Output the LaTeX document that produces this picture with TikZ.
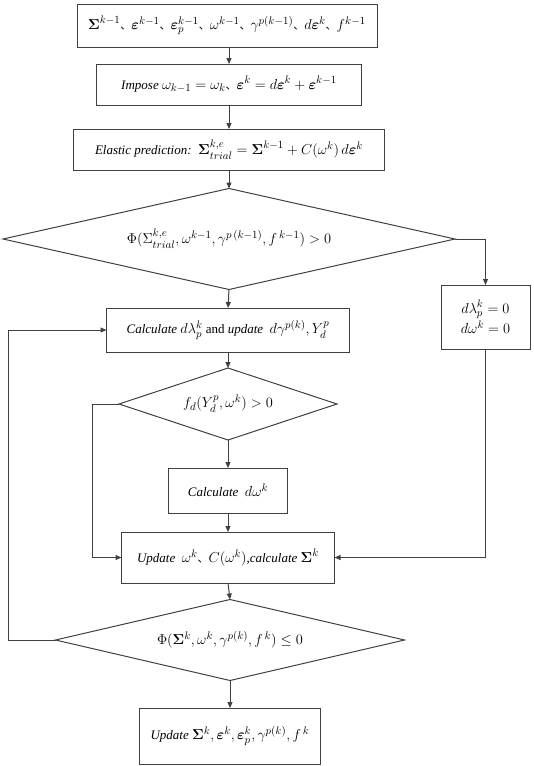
\documentclass[tikz,border=0pt]{standalone}
\usepackage{amsmath,bm}
\usepackage{fontspec}
\setmainfont{Liberation Serif}
\newfontfamily\cjk{Noto Sans CJK SC}
\usetikzlibrary{shapes.geometric,arrows.meta}
\definecolor{lc}{HTML}{404040}
\newcommand{\dun}{{\cjk\fontsize{11}{13}\selectfont 、}}
\newcommand{\mm}[1]{{\fontsize{15}{17}\selectfont$#1$}}
\begin{document}
\begin{tikzpicture}[x=1pt,y=-1pt,
  every node/.style={inner sep=0pt,outer sep=0pt},
  box/.style={draw=lc,line width=1pt,rectangle,align=center,font=\fontsize{13}{17}\selectfont},
  dia/.style={draw=lc,line width=1pt,diamond,align=center,font=\fontsize{13}{17}\selectfont},
  arr/.style={draw=lc,line width=1pt,-{Triangle[length=6pt,width=5pt]}},
  ln/.style={draw=lc,line width=1pt}]
\useasboundingbox (0,0) rectangle (533,766);
\node[box,minimum width=300pt,minimum height=43pt] (b1) at (227,25.5)
  {\mm{\bm{\Sigma}^{k-1}}\dun\mm{\bm{\varepsilon}^{k-1}}\dun\mm{\bm{\varepsilon}_p^{k-1}}\dun\mm{\omega^{k-1}}\dun\mm{\gamma^{p(k-1)}}\dun\mm{d\bm{\varepsilon}^k}\dun\mm{f^{k-1}}};
\node[box,minimum width=265pt,minimum height=41pt] (b2) at (229,84.5)
  {\textit{Impose} \mm{\omega_{k-1}=\omega_k}\dun\mm{\bm{\varepsilon}^k = d\bm{\varepsilon}^k + \bm{\varepsilon}^{k-1}}};
\node[box,minimum width=311pt,minimum height=41pt] (b3) at (229,149.5)
  {\textit{Elastic prediction:}\ \ \mm{\bm{\Sigma}^{k,e}_{trial} = \bm{\Sigma}^{k-1} + C(\omega^k)\,d\bm{\varepsilon}^k}};
\node[dia,shape aspect=4.475,minimum width=452pt,minimum height=101pt] (d1) at (229,239)
  {\mm{\Phi(\Sigma^{k,e}_{trial},\omega^{k-1},\gamma^{p\,(k-1)},f^{\,k-1})>0}};
\node[box,minimum width=243pt,minimum height=44pt] (calc) at (228,330)
  {\textit{Calculate} \mm{d\lambda_p^k} and \textit{update}\ \ \mm{d\gamma^{p(k)},Y_d^p}};
\node[box,minimum width=89pt,minimum height=64pt] (rb) at (485.5,317)
  {\mm{d\lambda_p^k=0}\\[1pt]\mm{d\omega^k=0}};
\node[dia,shape aspect=3.03,minimum width=218pt,minimum height=72pt] (d2) at (228,404)
  {\mm{f_d(Y_d^p,\omega^k)>0}};
\node[box,minimum width=119pt,minimum height=45pt] (cdw) at (228,490.5)
  {\textit{Calculate}\ \ \mm{d\omega^k}};
\node[box,minimum width=213pt,minimum height=51pt] (upd) at (228,557.5)
  {\textit{Update}\ \ \mm{\omega^k}\dun\mm{C(\omega^k)},\textit{calculate} \mm{\bm{\Sigma}^k}};
\node[dia,shape aspect=4.31,minimum width=349pt,minimum height=81pt] (d3) at (230,640)
  {\mm{\Phi(\bm{\Sigma}^k,\omega^k,\gamma^{p(k)},f^{\,k})\le 0}};
\node[box,minimum width=181pt,minimum height=56pt] (fin) at (230,736)
  {\textit{Update} \mm{\bm{\Sigma}^k,\bm{\varepsilon}^k,\bm{\varepsilon}_p^k,\gamma^{p(k)},f^{\,k}}};
\coordinate (lp) at (8.5,640);
\coordinate (lb) at (92,404);
\draw[arr] (b1.south -| b2.north) -- (b2.north);
\draw[arr] (b2.south) -- (b3.north);
\draw[arr] (b3.south) -- (d1.north);
\draw[arr] (d1.south) -- (calc.north);
\draw[arr] (d1.east) -| (rb.north);
\draw[arr] (calc.south) -- (d2.north);
\draw[arr] (d2.south) -- (cdw.north);
\draw[arr] (cdw.south) -- (upd.north);
\draw[arr] (d2.west) -- (lb) |- (upd.west);
\draw[arr] (rb.south) |- (upd.east);
\draw[arr] (upd.south) -- (d3.north);
\draw[arr] (d3.south) -- (fin.north);
\draw[arr] (d3.west) -- (lp) |- (calc.west);
\end{tikzpicture}
\end{document}
